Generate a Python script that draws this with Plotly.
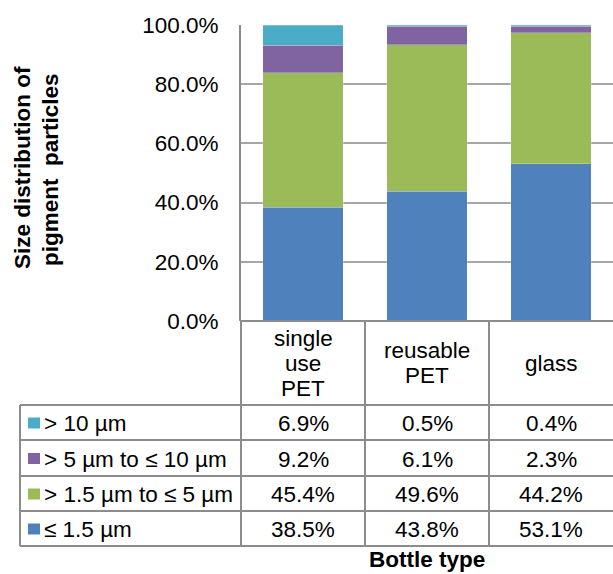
import plotly.graph_objects as go

categories = ["single use PET", "reusable PET", "glass"]
header_lines = [["single", "use", "PET"], ["reusable", "PET"], ["glass"]]

series_names = ["≤ 1.5 µm", "> 1.5 µm to ≤ 5 µm", "> 5 µm to ≤ 10 µm", "> 10 µm"]
le_1_5 = [38.5, 43.8, 53.1]
p1_5_to_5 = [45.4, 49.6, 44.2]
p5_to_10 = [9.2, 6.1, 2.3]
gt_10 = [6.9, 0.5, 0.4]
series_values = [le_1_5, p1_5_to_5, p5_to_10, gt_10]
series_colors = ["#4f81bd", "#9bbb59", "#8064a2", "#4bacc6"]

y_ticks = [0, 0.2, 0.4, 0.6, 0.8, 1.0]

W, H = 613, 574
L, R, T, B = 241, 0, 25, 253
PW = W - L - R
PH = H - T - B
FONT = "Arial, Liberation Sans, sans-serif"
FS = 22.5
LINE = "#8c8c8c"


def px2x(px):
    return (px - L) / PW


def px2y(py):
    return (H - B - py) / PH


fig = go.Figure()
for name, vals, col in zip(series_names, series_values, series_colors):
    fig.add_trace(go.Bar(
        x=categories, y=[v / 100 for v in vals], name=name,
        marker=dict(color=col, line=dict(color="rgba(255,255,255,0.5)", width=0.5)),
        showlegend=False,
    ))

shapes = []
annotations = []

def hline(y, x0, x1):
    shapes.append(dict(type="line", xref="paper", yref="paper",
                       x0=px2x(x0), x1=px2x(x1), y0=px2y(y), y1=px2y(y),
                       line=dict(color=LINE, width=2)))

def vline(x, y0, y1):
    shapes.append(dict(type="line", xref="paper", yref="paper",
                       x0=px2x(x), x1=px2x(x), y0=px2y(y0), y1=px2y(y1),
                       line=dict(color=LINE, width=2)))

def text(px, py, s, anchor="center", bold=False, angle=0, yanchor="middle"):
    annotations.append(dict(xref="paper", yref="paper", x=px2x(px), y=px2y(py),
                            text=f"<b>{s}</b>" if bold else s, showarrow=False,
                            xanchor=anchor, yanchor=yanchor, textangle=angle,
                            font=dict(family=FONT, size=FS, color="#000")))

# table geometry
col_edges = [241, 365, 489, 613]
row_edges = [405, 440, 476, 511, 546]
table_left = 20

for y in row_edges:
    hline(y, table_left, W)
vline(table_left, row_edges[0], row_edges[-1])
for x in col_edges[:3]:
    vline(x, 321, row_edges[-1])
hline(321, 241, W)

# header
LS = 25
for i, lines in enumerate(header_lines):
    cx = (col_edges[i] + col_edges[i + 1]) / 2
    n = len(lines)
    for j, s in enumerate(lines):
        cy = 363 + (j - (n - 1) / 2) * LS
        text(cx, cy, s)

# rows: top to bottom reversed series order
row_order = [3, 2, 1, 0]
for r, si in enumerate(row_order):
    cy = (row_edges[r] + row_edges[r + 1]) / 2
    shapes.append(dict(type="rect", xref="paper", yref="paper",
                       x0=px2x(28), x1=px2x(40), y0=px2y(cy - 5), y1=px2y(cy + 6),
                       fillcolor=series_colors[si], line=dict(width=0)))
    text(42, cy + 1, series_names[si], anchor="left")
    for c in range(3):
        cx = (col_edges[c] + col_edges[c + 1]) / 2
        text(cx, cy + 1, f"{series_values[si][c]:.1f}%")

# axis titles
text(427, 574, "Bottle type", bold=True, yanchor="bottom")
text(22, 168, "Size distribution of", bold=True, angle=-90)
text(50, 170, "pigment\u00a0 particles", bold=True, angle=-90)

fig.update_layout(
    width=W, height=H,
    margin=dict(l=L, r=R, t=T, b=B, pad=0),
    barmode="stack", bargap=0.347,
    plot_bgcolor="white", paper_bgcolor="white",
    font=dict(family=FONT, size=FS, color="#000"),
    shapes=shapes, annotations=annotations,
    xaxis=dict(showticklabels=False, showline=False, showgrid=False, ticks="",
               zeroline=False),
    yaxis=dict(range=[0, 1], tickvals=y_ticks, tickformat=".1%",
               showgrid=True, gridcolor="#a6a6a6", gridwidth=2,
               showline=True, linecolor=LINE, linewidth=2,
               zeroline=False, ticks="", ticklabelstandoff=16,
               tickfont=dict(family=FONT, size=FS, color="#000")),
)

fig.write_html("out.html", config={"displayModeBar": False},
               post_script="document.body.style.margin='0';document.body.style.overflow='hidden';")
